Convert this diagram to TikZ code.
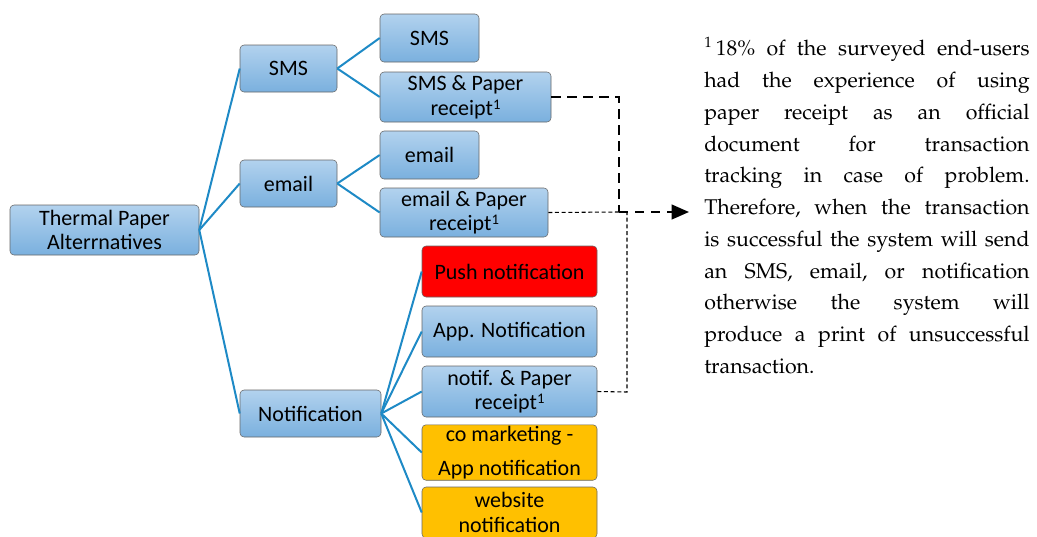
\documentclass[tikz,border=0pt]{standalone}
\usepackage[T1]{fontenc}
\usepackage{fontspec}
\usetikzlibrary{arrows.meta}
\newfontfamily\boxfont{Carlito}
\newcommand\notefont{\fontencoding{T1}\fontfamily{ppl}\selectfont}
\newcommand\fnmark{\raisebox{0.55ex}{\fontsize{11}{11}\selectfont 1}}
\definecolor{treeblue}{RGB}{30,138,198}
\definecolor{boxtop}{RGB}{178,210,238}
\definecolor{boxbot}{RGB}{122,176,222}
\definecolor{warnorange}{RGB}{255,192,0}

\begin{document}
\begin{tikzpicture}[x=0.75pt,y=-0.75pt]
      \tikzstyle{main}=[rectangle, rounded corners=3pt, draw=black!60, thin, align=center, inner sep=1pt,
                        font=\boxfont\fontsize{16.5}{18.5}\selectfont, top color=boxtop, bottom color=boxbot]
      \tikzstyle{hot}=[main, top color=red, bottom color=red]
      \tikzstyle{partner}=[main, top color=warnorange, bottom color=warnorange]
      \tikzstyle{leaf}=[minimum width=131.25pt, minimum height=38.25pt]
      \tikzstyle{connect}=[draw=treeblue, line width=1.5pt]
      \tikzstyle{paper}=[dashed, line width=1.6pt, dash pattern=on 7pt off 5pt]
      \tikzstyle{paperthin}=[line width=0.8pt, dash pattern=on 3pt off 2pt]

      \useasboundingbox (0,0) rectangle (1037,536);

      \node[main, minimum width=141.75pt, minimum height=37.5pt] (root) at (104.5,230) {Thermal Paper\\Alterrnatives};

      \node[main, minimum width=72.75pt, minimum height=35.25pt] (sms) at (288.5,68.5) {SMS};
      \node[main, minimum width=72.75pt, minimum height=35.25pt] (email) at (288.5,183.5) {email};
      \node[main, minimum width=105.75pt, minimum height=35.25pt] (notif) at (310.5,413.5) {Notification};

      \node[main, minimum width=74.25pt, minimum height=36pt] (smsonly) at (429.5,38) {SMS};
      \node[main, minimum width=128.25pt, minimum height=37.5pt] (smspaper) at (465.5,97) {SMS \& Paper\\receipt\fnmark};
      \node[main, minimum width=74.25pt, minimum height=36pt] (emailonly) at (429.5,155) {email};
      \node[main, minimum width=126pt, minimum height=36.75pt] (emailpaper) at (464,212.5) {email \& Paper\\receipt\fnmark};

      \node[hot, leaf] (push) at (509.5,271.5) {Push notification};
      \node[main, leaf] (app) at (509.5,331.5) {App. Notification};
      \node[main, leaf] (notifpaper) at (509.5,391.5) {notif. \& Paper\\receipt\fnmark};
      \node[partner, leaf] (comkt) at (509.5,452.5) {co marketing -\\[7pt]App notification};
      \node[partner, leaf] (web) at (509.5,512.5) {website\\notification};

      \path (root.east) edge [connect] (sms.west)
            (root.east) edge [connect] (email.west)
            (root.east) edge [connect] (notif.west);

      \path (sms.east) edge [connect] (smsonly.west)
            (sms.east) edge [connect] (smspaper.west)
            (email.east) edge [connect] (emailonly.west)
            (email.east) edge [connect] (emailpaper.west);

      \foreach \n in {push,app,notifpaper,comkt,web}
        \path (notif.east) edge [connect] (\n.west);

      % paper receipt links
      \coordinate (bend) at (619,97);
      \coordinate (join) at (619,212);
      \coordinate (drop) at (627,392);
      \coordinate (tip) at (689,212);
      \draw[paper] (smspaper.east) -- (bend) -- (join);
      \draw[paper, -{Triangle[length=13pt, width=11pt]}] (join) -- (tip);
      \draw[paperthin] (emailpaper.east) -- (join);
      \draw[paperthin] (notifpaper.east) -- (drop) -- (drop |- join);

      \node[anchor=north west, inner sep=0pt, text width=244pt, align=justify,
            font=\notefont\fontsize{16}{23.8}\selectfont\frenchspacing] (note) at (704,37)
        {\textsuperscript{1}\,18\% of the surveyed end-users\linebreak
         had the experience of using\linebreak
         paper receipt as an official\linebreak
         document for transaction\linebreak
         tracking in case of problem.\linebreak
         Therefore, when the transaction\linebreak
         is successful the system will send\linebreak
         an SMS, email, or notification\linebreak
         otherwise the system will\linebreak
         produce a print of unsuccessful\linebreak
         transaction.};
    \end{tikzpicture}
\end{document}
